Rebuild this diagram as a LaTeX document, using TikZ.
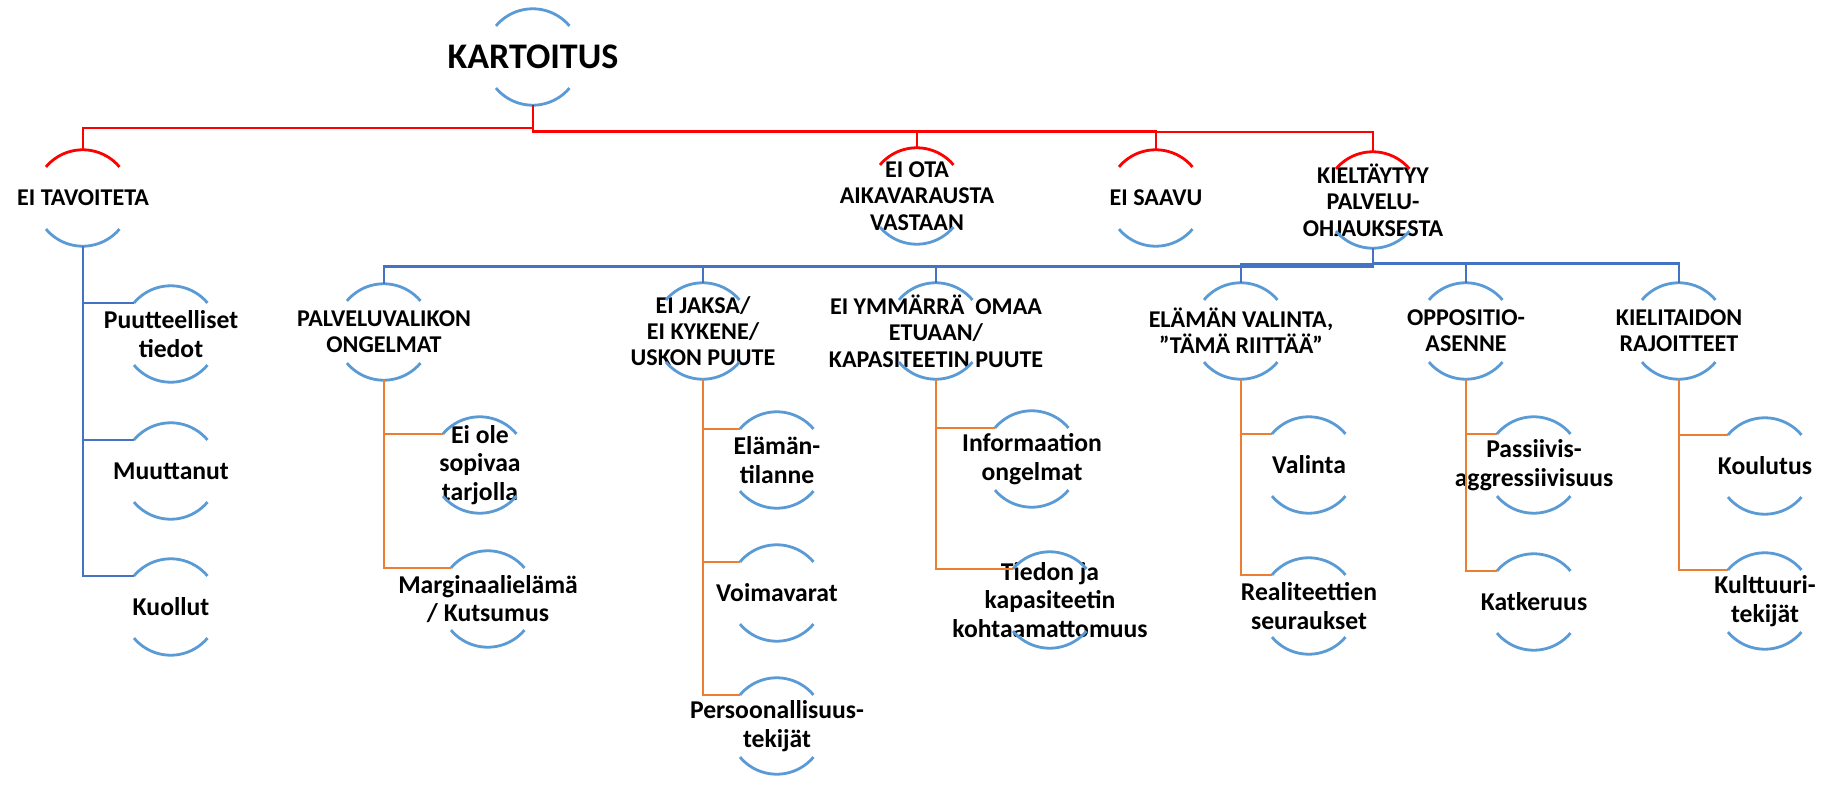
\documentclass[tikz,border=0pt]{standalone}
\usepackage{fontspec}
\setmainfont{Carlito}
\definecolor{arcBlue}{RGB}{91,155,213}
\definecolor{lineBlue}{RGB}{68,114,196}
\definecolor{lineOrange}{RGB}{237,125,49}
\definecolor{lineRed}{RGB}{255,0,0}

\begin{document}
\begin{tikzpicture}
[x=0.02cm,y=-0.02cm,
  nodeRing/.style={shape=circle,minimum size=1.92cm,inner sep=0pt},%
  textTop/.style={font=\fontsize{20.5}{24}\selectfont\bfseries,inner sep=0pt},%
  textCaps/.style={font=\fontsize{13.7}{15}\selectfont\bfseries,align=center,inner sep=0pt},%
  textLeaf/.style={font=\fontsize{14.6}{16.4}\selectfont\bfseries,align=center,inner sep=0pt},%
  arcdecorate/.style={arcBlue,line width=1.6pt},%
  redline/.style={lineRed,line width=1.3pt},%
  blueline/.style={lineBlue,line width=1.6pt},%
  orangeline/.style={lineOrange,line width=1.6pt}]
\useasboundingbox (0,0) rectangle (1826,787);
%% nodes or vertices
\node (kart) at (533,57) [nodeRing] {};
\node (kart-t) at (kart) [textTop] {KARTOITUS};
\foreach \nodename/\x/\y/\txt in {eitav/83/198/{EI TAVOITETA},
  eiota/917/196/{EI OTA\\AIKAVARAUSTA\\VASTAAN}, eisaa/1156/198/{EI SAAVU},
  kielt/1373/200/{KIELTÄYTYY\\PALVELU-\\OHJAUKSESTA},
  palv/384/332/{PALVELUVALIKON\\ONGELMAT},
  jaksa/703/331/{EI JAKSA/\\EI KYKENE/\\USKON PUUTE},
  ymm/936/331/{EI YMMÄRRÄ~ OMAA\\ETUAAN/\\KAPASITEETIN PUUTE},
  elam/1241/331/{ELÄMÄN VALINTA,\\”TÄMÄ RIITTÄÄ”},
  oppo/1466/331/{OPPOSITIO-\\ASENNE}, kieli/1679/331/{KIELITAIDON\\RAJOITTEET}}
{
  \node (\nodename) at (\x,\y) [nodeRing] {};
  \node (\nodename-t) at (\nodename) [textCaps] {\txt};
}
\foreach \nodename/\x/\y/\txt in {puut/171/334/{Puutteelliset\\tiedot},
  muut/171/471/{Muuttanut}, kuol/171/607/{Kuollut},
  eiole/480/465/{Ei ole\\sopivaa\\tarjolla}, marg/488/599/{Marginaalielämä\\/ Kutsumus},
  elamt/777/460/{Elämän-\\tilanne}, voima/777/593/{Voimavarat},
  pers/777/726/{Persoonallisuus-\\tekijät},
  info/1032/459/{Informaation\\ongelmat},
  tied/1050/600/{Tiedon ja\\kapasiteetin\\kohtaamattomuus},
  vali/1309/465/{Valinta}, real/1309/606/{Realiteettien\\seuraukset},
  pass/1534/465/{Passiivis-\\aggressiivisuus}, katk/1534/602/{Katkeruus},
  koul/1765/466/{Koulutus}, kult/1765/601/{Kulttuuri-\\tekijät}}
{
  \node (\nodename) at (\x,\y) [nodeRing] {};
  \node (\nodename-t) at (\nodename) [textLeaf] {\txt};
}
%% arcs
\foreach \nodename in {eitav, eiota, eisaa, kielt}
{
  \draw[arcdecorate,lineRed] (\nodename.140) arc[start angle=140,end angle=40,radius=0.96cm];
}
\foreach \nodename in {kart, palv, jaksa, ymm, elam, oppo, kieli, puut, muut,
  kuol, eiole, marg, elamt, voima, pers, info, tied, vali, real, pass, katk,
  koul, kult}
{
  \draw[arcdecorate] (\nodename.140) arc[start angle=140,end angle=40,radius=0.96cm];
}
\foreach \nodename in {kart, eitav, eiota, eisaa, kielt, palv, jaksa, ymm, elam,
  oppo, kieli, puut, muut, kuol, eiole, marg, elamt, voima, pers, info, tied,
  vali, real, pass, katk, koul, kult}
{
  \draw[arcdecorate] (\nodename.220) arc[start angle=220,end angle=320,radius=0.96cm];
}
%% edges or lines
\foreach \endnode/\d in {eitav/23, eiota/26, eisaa/26, kielt/27}
{
  \draw[redline] (kart.south) -- ++(0,\d) -| (\endnode.north);
}
\foreach \endnode/\d in {palv/18, jaksa/18, ymm/18, elam/16, oppo/15, kieli/15}
{
  \draw[blueline] (kielt.south) -- ++(0,\d) -| (\endnode.north);
}
\foreach \endnode in {puut, muut, kuol}
{
  \draw[blueline] (eitav.south) |- (\endnode.140);
}
\foreach \startnode/\endnode in {palv/eiole, palv/marg, jaksa/elamt, jaksa/voima,
  jaksa/pers, ymm/info, ymm/tied, elam/vali, elam/real, oppo/pass, oppo/katk,
  kieli/koul, kieli/kult}
{
  \draw[orangeline] (\startnode.south) |- (\endnode.140);
}
\end{tikzpicture}
\end{document}
